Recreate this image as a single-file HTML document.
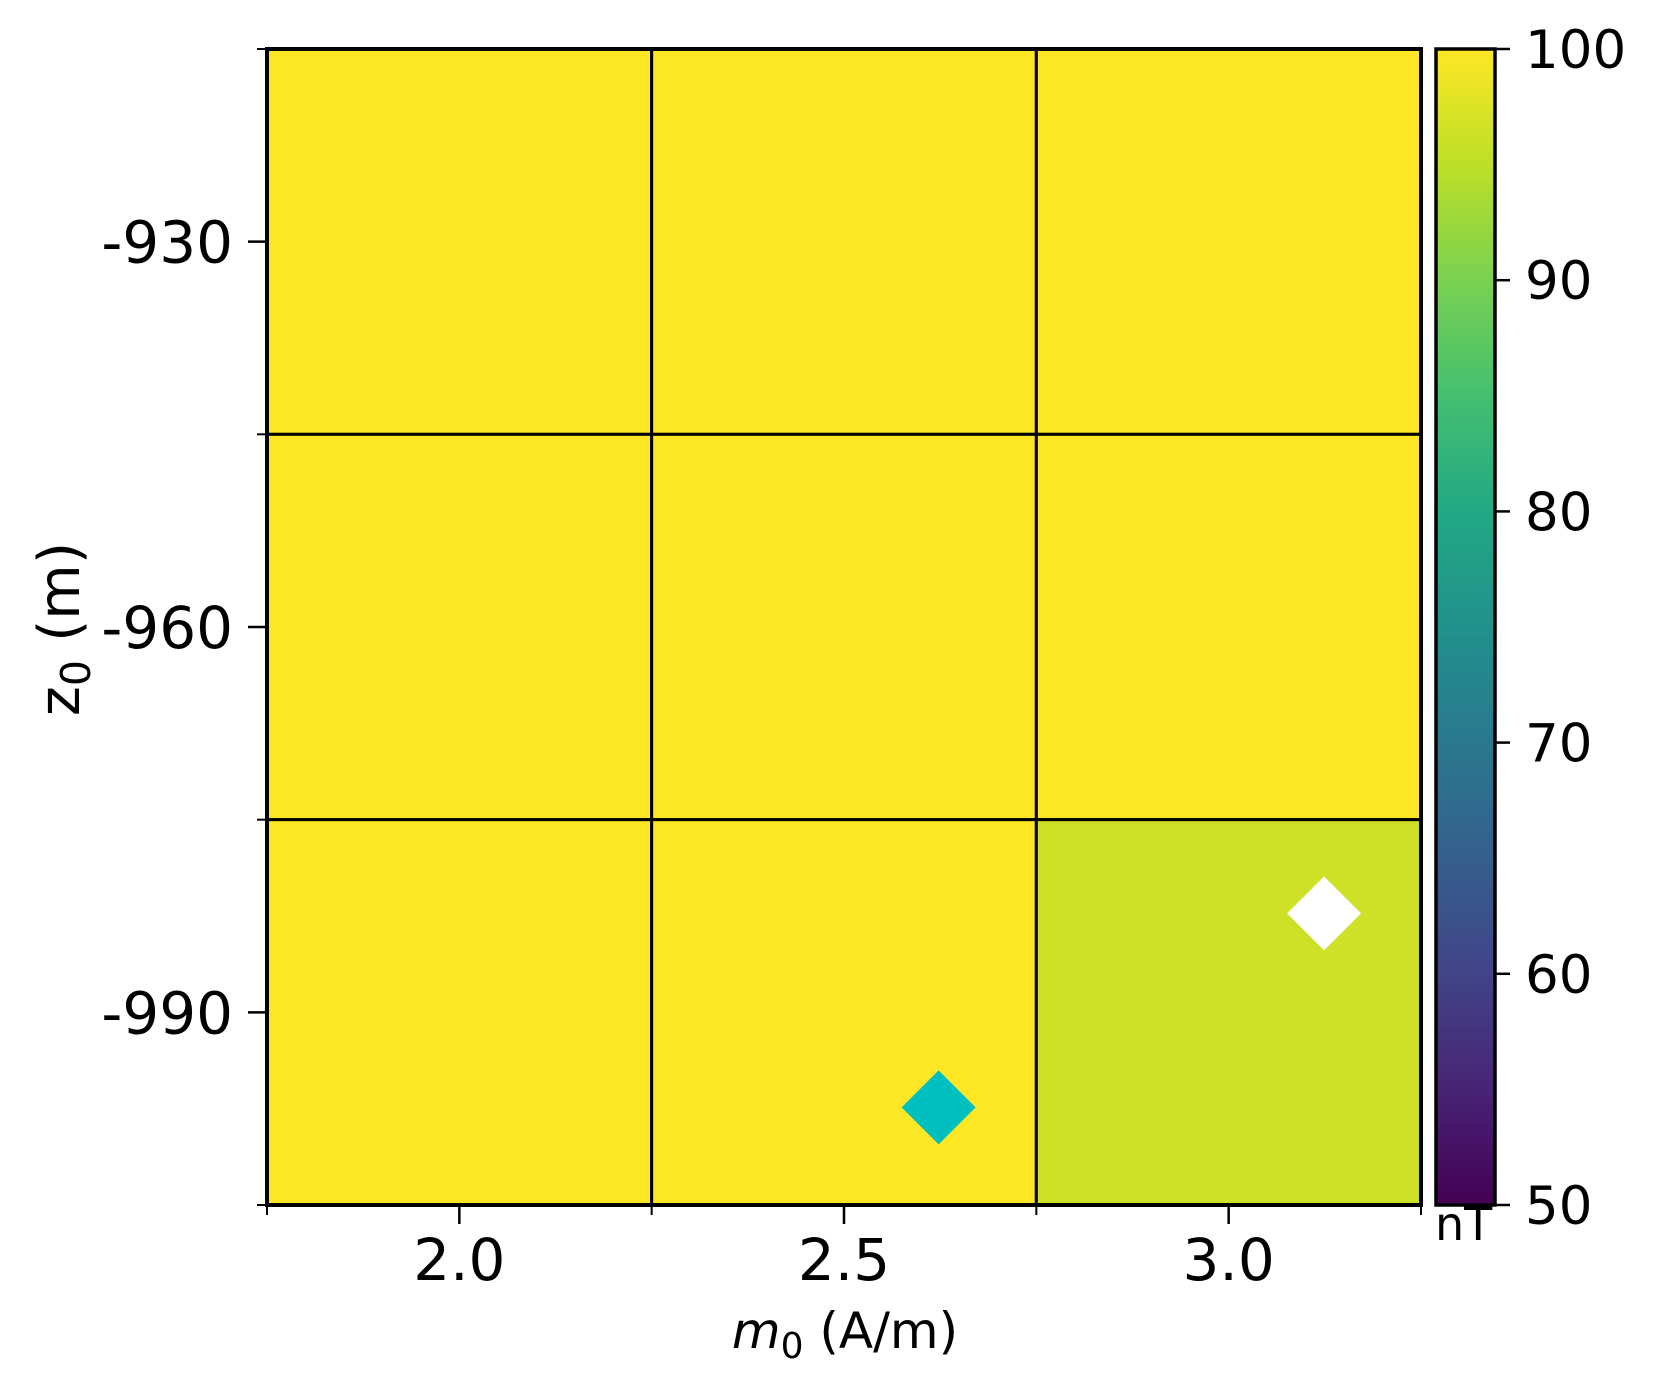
<!DOCTYPE html>
<html><head><meta charset="utf-8"><style>
html,body{margin:0;padding:0;background:#fff;}
svg{display:block;font-family:"DejaVu Sans","Liberation Sans",sans-serif;}
</style></head><body>
<svg id="chart" width="1656" height="1388" viewBox="0 0 1656 1388" xmlns="http://www.w3.org/2000/svg">
<defs>
<linearGradient id="viridis" x1="0" y1="1" x2="0" y2="0">
<stop offset="0" stop-color="#440154"/><stop offset="0.1" stop-color="#482475"/>
<stop offset="0.2" stop-color="#414487"/><stop offset="0.3" stop-color="#355f8d"/>
<stop offset="0.4" stop-color="#2a788e"/><stop offset="0.5" stop-color="#21918c"/>
<stop offset="0.6" stop-color="#22a884"/><stop offset="0.7" stop-color="#44bf70"/>
<stop offset="0.8" stop-color="#7ad151"/><stop offset="0.9" stop-color="#bddf26"/>
<stop offset="1" stop-color="#fde725"/>
</linearGradient>
</defs>
<g id="cells"></g>
<g id="axes"></g>
<g id="markers"></g>
<g id="cbar"></g>
</svg>
<script>
const xCats = [2.0, 2.5, 3.0];
const yCats = [-930, -960, -990];
const cellValues = [
  [100, 100, 100],
  [100, 100, 100],
  [100, 100, 96.3]
];
const xTicks = [2.0, 2.5, 3.0];
const xTickLabels = ["2.0", "2.5", "3.0"];
const yTicks = [-930, -960, -990];
const yTickLabels = ["-930", "-960", "-990"];
const cbTicks = [50, 60, 70, 80, 90, 100];
const markerTrue = [2.623, -997.4];
const markerEst = [3.124, -982.3];

const NS = "http://www.w3.org/2000/svg";
const L = 267, R = 1421, T = 49, B = 1205;
const xMin = 1.75, xMax = 3.25, yTop = -915, yBot = -1005;
const sx = v => L + (v - xMin) / (xMax - xMin) * (R - L);
const sy = v => T + (yTop - v) / (yTop - yBot) * (B - T);
const vmin = 50, vmax = 100;
const CBL = 1436, CBR = 1495;
const cy = v => B - (v - vmin) / (vmax - vmin) * (B - T);
const stops = [[0,[68,1,84]],[0.1,[72,36,117]],[0.2,[65,68,135]],[0.3,[53,95,141]],[0.4,[42,120,142]],[0.5,[33,145,140]],[0.6,[34,168,132]],[0.7,[68,191,112]],[0.8,[122,209,81]],[0.9,[189,223,38]],[1,[253,231,37]]];
function viridis(t){t=Math.max(0,Math.min(1,t));for(let i=1;i<stops.length;i++){if(t<=stops[i][0]){const a=stops[i-1],b=stops[i];const f=(t-a[0])/(b[0]-a[0]);const c=a[1].map((v,k)=>Math.round(v+(b[1][k]-v)*f));return `rgb(${c[0]},${c[1]},${c[2]})`;}}return "rgb(253,231,37)";}
function mk(tag, attrs, parent, text){const e=document.createElementNS(NS,tag);for(const k in attrs)e.setAttribute(k,attrs[k]);if(text!==undefined)e.textContent=text;parent.appendChild(e);return e;}

const cells = document.getElementById('cells');
const dx = xCats[1]-xCats[0], dy = yCats[0]-yCats[1];
yCats.forEach((yv, i) => {
  xCats.forEach((xv, j) => {
    const x0 = sx(xv - dx/2), x1 = sx(xv + dx/2), y0 = sy(yv + dy/2), y1 = sy(yv - dy/2);
    const r = mk('rect', {x:x0, y:y0, width:x1-x0, height:y1-y0, fill:viridis((cellValues[i][j]-vmin)/(vmax-vmin)), stroke:'#000', 'stroke-width':3}, cells);
    
    
  });
});

const axes = document.getElementById('axes');
const frame = mk('rect', {x:L, y:T, width:R-L, height:B-T, fill:'none', stroke:'#000', 'stroke-width':4}, axes);


[xMin, xMin+dx, xMin+2*dx, xMax].forEach(v => {
  const t = mk('line', {x1:sx(v), x2:sx(v), y1:B, y2:B+10, stroke:'#000', 'stroke-width':2}, axes);
  
  
});
[yTop, yTop-dy, yTop-2*dy, yBot].forEach(v => {
  const t = mk('line', {x1:L-10, x2:L, y1:sy(v), y2:sy(v), stroke:'#000', 'stroke-width':2}, axes);
  
  
});
xTicks.forEach((v, i) => {
  const t = mk('line', {x1:sx(v), x2:sx(v), y1:B, y2:B+19, stroke:'#000', 'stroke-width':2.5}, axes);
  
  
  const l = mk('text', {x:sx(v), y:1280, 'font-size':58, 'text-anchor':'middle'}, axes, xTickLabels[i]);
  
  
});
yTicks.forEach((v, i) => {
  const t = mk('line', {x1:L-19, x2:L, y1:sy(v), y2:sy(v), stroke:'#000', 'stroke-width':2.5}, axes);
  
  
  const l = mk('text', {x:233, y:sy(v)+21, 'font-size':58, 'text-anchor':'end'}, axes, yTickLabels[i]);
  
  
});
const xt = mk('text', {x:845, y:1348, 'font-size':50, 'text-anchor':'middle'}, axes);


xt.innerHTML = '<tspan font-style="italic">m</tspan><tspan font-size="36" dy="10">0</tspan><tspan dy="-10"> (A/m)</tspan>';
const yt = mk('text', {x:0, y:0, 'font-size':57, 'text-anchor':'middle', transform:'translate(79,629) rotate(-90)'}, axes);


yt.innerHTML = '<tspan>z</tspan><tspan font-size="41" dy="11">0</tspan><tspan dy="-11"> (m)</tspan>';

const markers = document.getElementById('markers');
function diamond(p, color, name){
  const cx = sx(p[0]), cyy = sy(p[1]), h = 37;
  const d = mk('polygon', {points:`${cx},${cyy-h} ${cx+h},${cyy} ${cx},${cyy+h} ${cx-h},${cyy}`, fill:color}, markers);
  
  
}
diamond(markerTrue, '#00bfbf', 'true-solution-marker');
diamond(markerEst, '#ffffff', 'estimate-marker');

const cb = document.getElementById('cbar');
const cbr = mk('rect', {x:CBL, y:T, width:CBR-CBL, height:B-T, fill:'url(#viridis)', stroke:'#000', 'stroke-width':3.5}, cb);


cbTicks.forEach(v => {
  const t = mk('line', {x1:CBR, x2:CBR+15, y1:cy(v), y2:cy(v), stroke:'#000', 'stroke-width':2.5}, cb);
  
  
  const l = mk('text', {x:1525, y:cy(v)+19, 'font-size':53}, cb, String(v));
  
  
});
const nt = mk('text', {x:1435, y:1240, 'font-size':46}, cb, 'nT');


</script>
</body></html>
